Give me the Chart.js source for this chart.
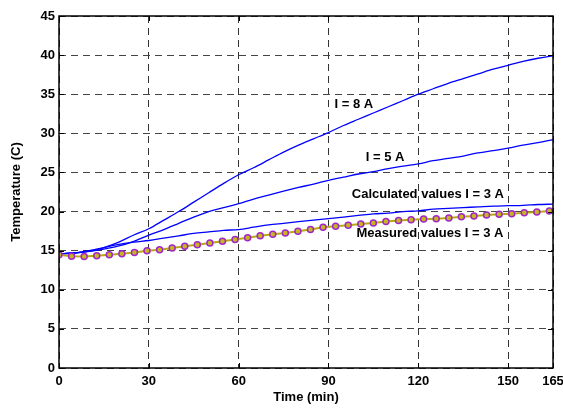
<!DOCTYPE html>
<html>
<head>
<meta charset="utf-8">
<script src="https://cdn.jsdelivr.net/npm/chart.js@4"></script>
<style>
html, body { margin: 0; padding: 0; background: #fff; }
#wrap { width: 563px; height: 409px; }
</style>
</head>
<body>
<div id="wrap"><canvas id="chart" width="563" height="409"></canvas></div>
<script>
/* data */

var calcTimes = [0, 5, 10, 15, 20, 25, 30, 35, 40, 45, 50, 55, 60, 65, 70, 75, 80, 85, 90, 95, 100, 105, 110, 115, 120, 125, 130, 135, 140, 145, 150, 155, 160, 165];
var calc8A = [14.6, 14.7, 14.9, 15.4, 16.1, 17.0, 17.8, 18.9, 20.0, 21.2, 22.4, 23.6, 24.7, 25.6, 26.6, 27.6, 28.5, 29.3, 30.1, 31.0, 31.8, 32.6, 33.4, 34.2, 35.0, 35.7, 36.4, 37.0, 37.6, 38.2, 38.7, 39.2, 39.6, 39.9];
var calc5A = [14.6, 14.7, 14.9, 15.2, 15.6, 16.2, 17.0, 17.7, 18.5, 19.3, 20.0, 20.5, 21.0, 21.6, 22.1, 22.6, 23.1, 23.5, 24.0, 24.4, 24.8, 25.1, 25.5, 25.8, 26.1, 26.5, 26.8, 27.1, 27.5, 27.8, 28.1, 28.5, 28.8, 29.2];
var calc3A = [14.6, 14.7, 15.0, 15.4, 15.8, 16.1, 16.3, 16.6, 16.9, 17.2, 17.4, 17.6, 17.7, 18.0, 18.3, 18.5, 18.7, 18.9, 19.1, 19.3, 19.5, 19.7, 19.8, 20.0, 20.1, 20.3, 20.4, 20.5, 20.6, 20.7, 20.75, 20.8, 20.9, 20.95];

var measTimes = [0, 4.2, 8.4, 12.6, 16.8, 21, 25.2, 29.4, 33.6, 37.8, 42, 46.2, 50.4, 54.6, 58.8, 63, 67.2, 71.4, 75.6, 79.8, 84, 88.2, 92.4, 96.6, 100.8, 105, 109.2, 113.4, 117.6, 121.8, 126, 130.2, 134.4, 138.6, 142.8, 147, 151.2, 155.4, 159.6, 163.8];
var meas3A = [14.49, 14.28, 14.25, 14.36, 14.49, 14.62, 14.78, 15.0, 15.13, 15.35, 15.55, 15.77, 15.98, 16.19, 16.44, 16.66, 16.9, 17.09, 17.26, 17.47, 17.72, 17.98, 18.11, 18.24, 18.41, 18.54, 18.72, 18.87, 18.96, 19.05, 19.09, 19.18, 19.35, 19.44, 19.57, 19.64, 19.73, 19.86, 19.95, 20.08];

var xTicks = [0, 30, 60, 90, 120, 150, 165];
var yTicks = [0, 5, 10, 15, 20, 25, 30, 35, 40, 45];

var labelTexts = ["I = 8 A", "I = 5 A", "Calculated values I = 3 A", "Measured values I = 3 A"];
var labelTimes = [98.5, 108.9, 123.2, 123.9];
var labelTemps = [33.7, 26.9, 22.2, 17.2];

/* helpers */

var toPoints = function(xs, ys) {
	var points = [];
	for (var i = 0; i < xs.length; i++) {
		points.push({ x: xs[i], y: ys[i] });
	}
	return points;
};

var setTicks = function(values) {
	return function(scale) {
		scale.ticks = values.map(function(v) { return { value: v }; });
	};
};

var font = { family: 'Liberation Sans, Arial, Helvetica, sans-serif', size: 13, weight: 'bold' };

/* frame, inner ticks and curve labels */

var framePlugin = {
	id: 'frame',
	afterDatasetsDraw: function(chart) {
		var ctx = chart.ctx;
		var area = chart.chartArea;
		var xs = chart.scales.x;
		var ys = chart.scales.y;
		ctx.save();
		ctx.strokeStyle = '#000';
		ctx.lineWidth = 1;
		ctx.beginPath();
		for (var i = 0; i < xTicks.length; i++) {
			var px = Math.round(xs.getPixelForValue(xTicks[i])) + 0.5;
			ctx.moveTo(px, area.bottom); ctx.lineTo(px, area.bottom - 5);
			ctx.moveTo(px, area.top); ctx.lineTo(px, area.top + 5);
		}
		for (var j = 0; j < yTicks.length; j++) {
			var py = Math.round(ys.getPixelForValue(yTicks[j])) + 0.5;
			ctx.moveTo(area.left, py); ctx.lineTo(area.left + 5, py);
			ctx.moveTo(area.right, py); ctx.lineTo(area.right - 5, py);
		}
		ctx.stroke();
		ctx.lineWidth = 1.5;
		ctx.strokeRect(area.left, area.top, area.right - area.left, area.bottom - area.top);
		ctx.fillStyle = '#000';
		ctx.font = 'bold 13px ' + font.family;
		ctx.textAlign = 'center';
		ctx.textBaseline = 'middle';
		for (var k = 0; k < labelTexts.length; k++) {
			ctx.fillText(labelTexts[k], xs.getPixelForValue(labelTimes[k]), ys.getPixelForValue(labelTemps[k]));
		}
		ctx.restore();
	}
};

/* chart */

var context = document.getElementById('chart').getContext('2d');
var payload = {
	type: 'line',
	data: {
		datasets: [
			{ label: 'Measured values I = 3 A', data: toPoints(measTimes, meas3A), borderColor: '#b8a818', borderWidth: 2, pointRadius: 3, pointBorderWidth: 1.5, pointBorderColor: '#a028c8', pointBackgroundColor: '#c8b420', fill: false, tension: 0 },
			{ label: 'I = 3 A', data: toPoints(calcTimes, calc3A), borderColor: '#0000ff', borderWidth: 1.3, pointRadius: 0, fill: false, cubicInterpolationMode: 'monotone' },
			{ label: 'I = 5 A', data: toPoints(calcTimes, calc5A), borderColor: '#0000ff', borderWidth: 1.3, pointRadius: 0, fill: false, cubicInterpolationMode: 'monotone' },
			{ label: 'I = 8 A', data: toPoints(calcTimes, calc8A), borderColor: '#0000ff', borderWidth: 1.3, pointRadius: 0, fill: false, cubicInterpolationMode: 'monotone' }
		]
	},
	options: {
		responsive: false,
		animation: false,
		layout: { padding: { left: 0, right: 10, top: 16, bottom: 0 } },
		plugins: { legend: { display: false }, tooltip: { enabled: false } },
		scales: {
			x: {
				type: 'linear', min: 0, max: 165,
				afterBuildTicks: setTicks(xTicks),
				afterFit: function(scale) { scale.height = 41; scale.paddingLeft = 0; scale.paddingRight = 0; },
				grid: { color: '#333', lineWidth: 1, drawTicks: false },
				border: { display: false, dash: [7, 5] },
				ticks: { color: '#000', font: font, padding: 6, maxRotation: 0, autoSkip: false },
				title: { display: true, text: 'Time (min)', color: '#000', font: font, padding: { top: 0, bottom: 4 } }
			},
			y: {
				type: 'linear', min: 0, max: 45,
				afterBuildTicks: setTicks(yTicks),
				afterFit: function(scale) { scale.width = 59; },
				grid: { color: '#444', lineWidth: 1, drawTicks: false },
				border: { display: false, dash: [7, 5] },
				ticks: { color: '#000', font: font, padding: 4, autoSkip: false },
				title: { display: true, text: 'Temperature (C)', color: '#000', font: font, padding: { top: 9, bottom: 0 } }
			}
		}
	},
	plugins: [framePlugin]
};

var chart = new Chart(context, payload);
</script>
</body>
</html>
